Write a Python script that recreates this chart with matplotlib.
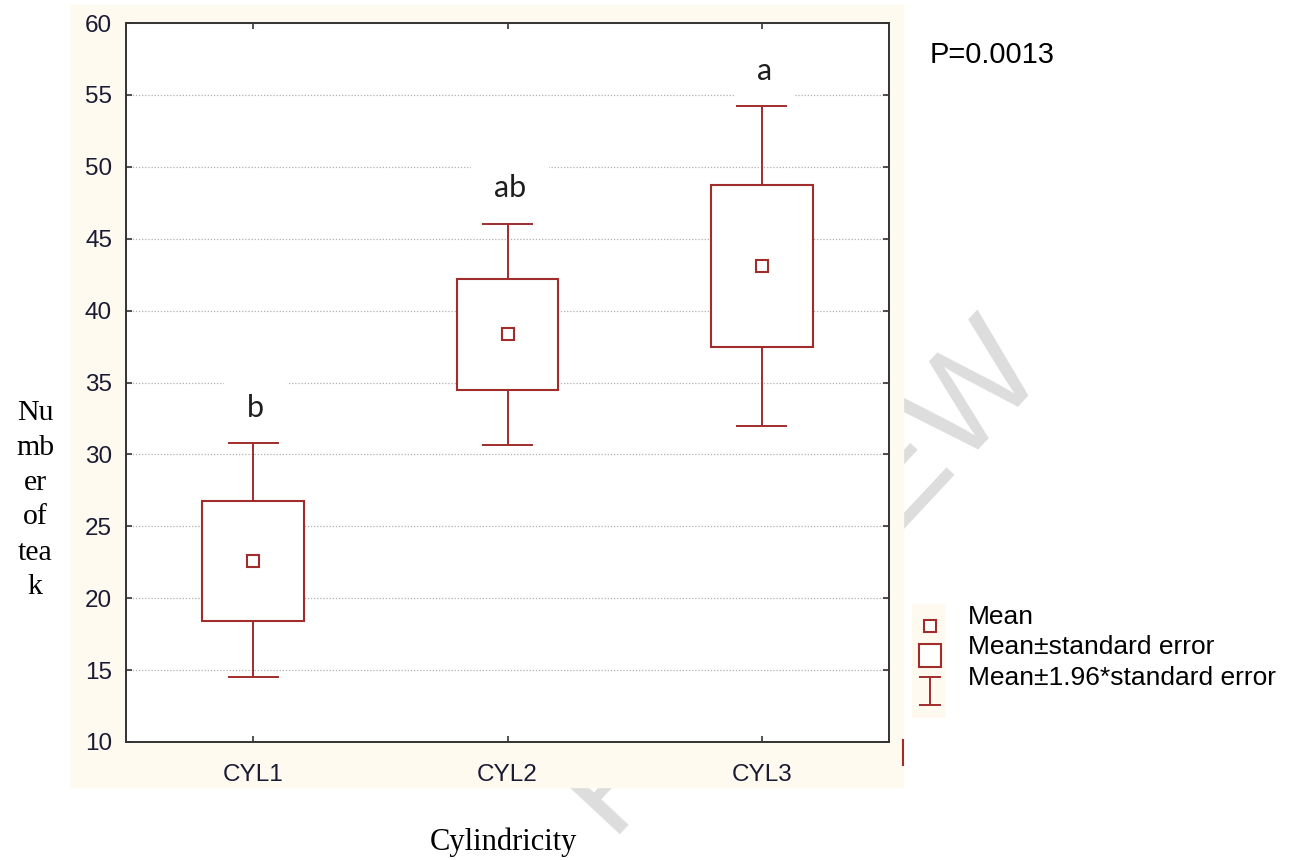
import numpy as np
import matplotlib
matplotlib.use('Agg')
import matplotlib.pyplot as plt
from matplotlib.patches import Rectangle
from matplotlib.lines import Line2D

# данные
groups = ['CYL1', 'CYL2', 'CYL3']
means = [22.6, 38.4, 43.1]
se_low = [18.4, 34.5, 37.5]
se_high = [26.75, 42.2, 48.75]
ci_low = [14.5, 30.65, 32.0]
ci_high = [30.8, 46.05, 54.2]
letters = ['b', 'ab', 'a']
p_text = 'P=0.0013'

red = '#a02c2c'
cream = '#fffaef'
tick_col = '#1a1a33'

W, H = 1294, 860


def px(x0, y0, x1, y1):
    return [x0 / W, 1 - y1 / H, (x1 - x0) / W, (y1 - y0) / H]


fig = plt.figure(figsize=(W / 100, H / 100), dpi=100)

# водяной знак и кремовая подложка
fig.text(800 / W, 1 - 575 / H, 'PREVIEW', rotation=47, fontsize=100,
         color='#dddddd', ha='center', va='center', family='Liberation Sans',
         zorder=-3)
fig.patches.append(Rectangle((71 / W, 1 - 787 / H), (903 - 71) / W, (787 - 5) / H,
                             transform=fig.transFigure, color=cream, zorder=-1))

ax = fig.add_axes(px(126, 23, 889, 742))
ax.set_facecolor('white')
x = np.arange(1, len(groups) + 1)

for i in range(len(groups)):
    ax.vlines(x[i], se_high[i], ci_high[i], color=red, lw=1.4, zorder=3)
    ax.vlines(x[i], ci_low[i], se_low[i], color=red, lw=1.4, zorder=3)
    ax.hlines([ci_low[i], ci_high[i]], x[i] - 0.1, x[i] + 0.1, color=red, lw=1.4, zorder=3)
    ax.add_patch(Rectangle((x[i] - 0.2, se_low[i]), 0.4, se_high[i] - se_low[i],
                           facecolor='white', edgecolor=red, lw=1.5, zorder=3))
    ax.text(x[i] + 0.01, ci_high[i] + 2.45, letters[i], ha='center', va='center',
            fontsize=22, color='#1e1e1e', family='Lato', zorder=2,
            bbox=dict(boxstyle='square,pad=0.75', fc='white', ec='none'))

ax.plot(x, means, 's', mfc='white', mec=red, ms=8, mew=1.5, zorder=4)

ax.set_xlim(0.5, 3.5)
ax.set_ylim(10, 60)
ax.set_yticks(np.arange(10, 61, 5))
ax.set_xticks(x)
ax.set_xticklabels(groups)
ax.yaxis.grid(True, linestyle=(0, (1, 1.5)), color='#b0b0b0', lw=0.9)
ax.set_axisbelow(True)
ax.tick_params(direction='in', length=4, width=1.2, color='#333333',
               top=True, right=True, labelsize=17.5, labelcolor=tick_col)
ax.tick_params(axis='y', pad=10)
ax.tick_params(axis='x', pad=16)
for lab in ax.get_xticklabels() + ax.get_yticklabels():
    lab.set_family('Liberation Sans')
for s in ax.spines.values():
    s.set_color('#333333')
    s.set_linewidth(1.4)

# подписи осей
fig.text(35 / W, 1 - 500 / H, 'Nu\nmb\ner\nof\ntea\nk', ha='center', va='center',
         family='Liberation Serif', fontsize=21.5, linespacing=1.45)
fig.text(503 / W, 1 - 842 / H, 'Cylindricity', ha='center', va='center',
         family='Liberation Serif', fontsize=22)
fig.text(930 / W, 1 - 55 / H, p_text, ha='left', va='center',
         family='Liberation Sans', fontsize=21)

# легенда
lax = fig.add_axes(px(912, 604, 946, 718))
lax.set_facecolor(cream)
lax.set_xlim(0, 34)
lax.set_ylim(114, 0)
lax.set_xticks([])
lax.set_yticks([])
for s in lax.spines.values():
    s.set_visible(False)
lax.plot([18], [22], 's', mfc='white', mec=red, ms=8, mew=1.5)
lax.add_patch(Rectangle((7, 40), 22, 23, facecolor='white', edgecolor=red, lw=1.5))
lax.vlines(18, 73, 101, color=red, lw=1.4)
lax.hlines([73, 101], 7, 29, color=red, lw=1.4)

leg_labels = ['Mean', 'Mean±standard error', 'Mean±1.96*standard error']
for k, lab in enumerate(leg_labels):
    fig.text(968 / W, 1 - (617 + 30.5 * k) / H, lab, ha='left', va='center',
             family='Liberation Sans', fontsize=19)

fig.add_artist(Line2D([903 / W, 903 / W], [1 - 740 / H, 1 - 765 / H],
                      color=red, lw=1.5))

fig.savefig('out.png', dpi=100)
